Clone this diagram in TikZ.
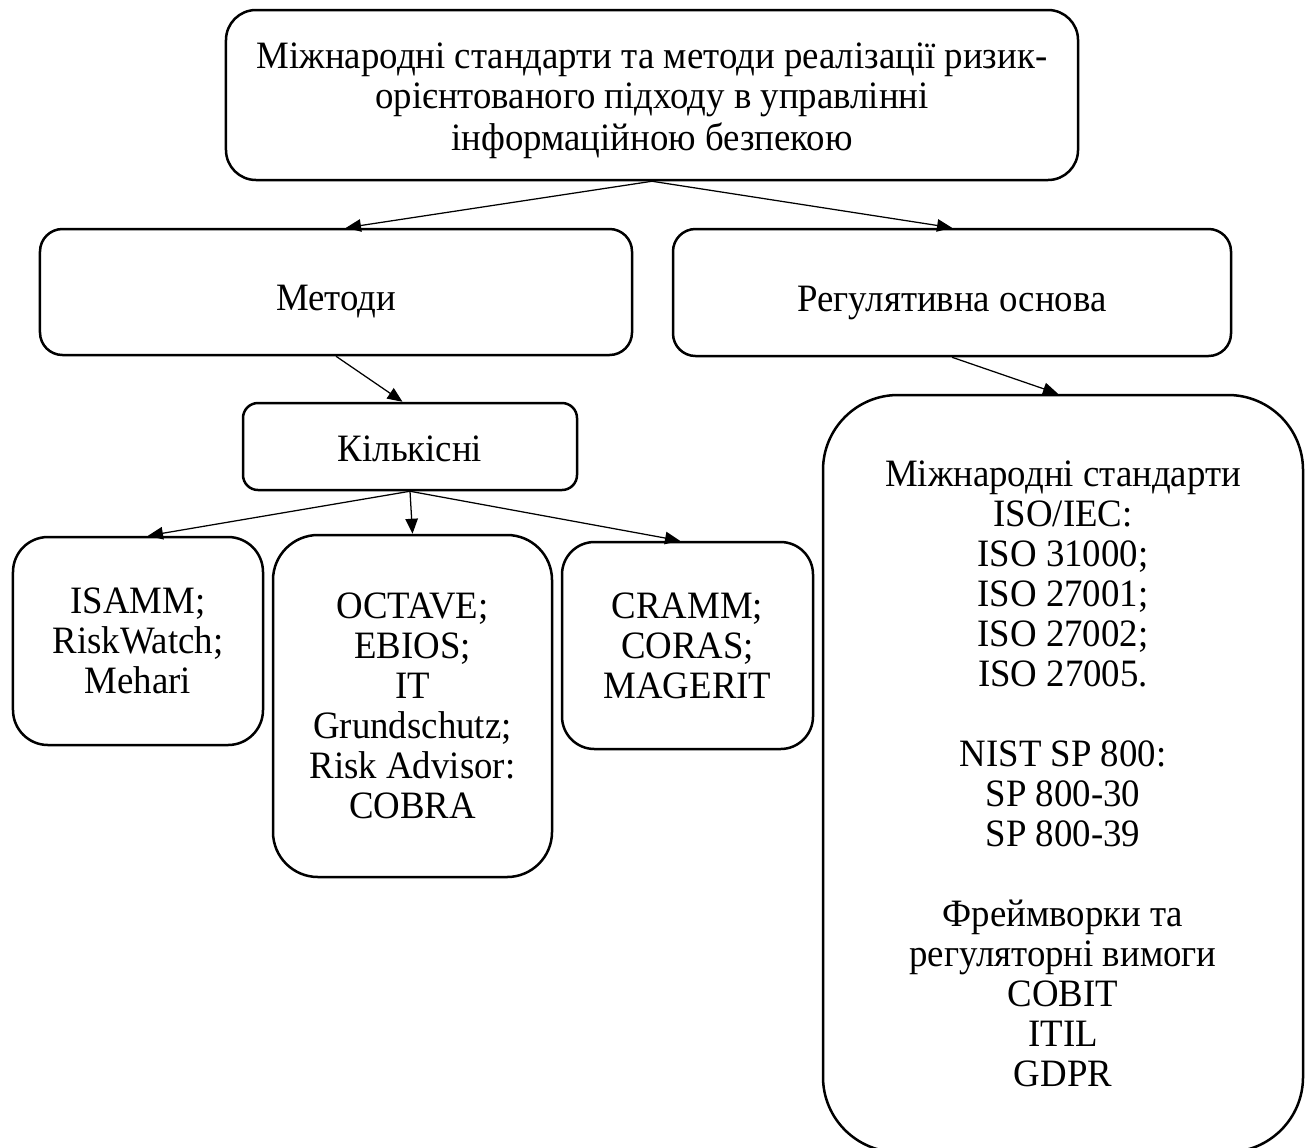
\documentclass[tikz,border=0pt]{standalone}
\usepackage{fontspec}
\setmainfont{Liberation Serif}[FakeStretch=0.95]
\usetikzlibrary{arrows.meta,positioning}

\begin{document}
\begin{tikzpicture}[
    x=0.4pt, y=-0.4pt,
    blk/.style={draw=black, line width=1pt, align=center, inner sep=0pt, font=\fontsize{15.5pt}{16pt}\selectfont},
    arr/.style={-{Triangle[length=6pt,width=5pt]}, line width=0.5pt, draw=black}
  ]
  \useasboundingbox (0,0) rectangle (1310,1147);
  \node[blk, rounded corners=12pt, minimum width=340.8pt, minimum height=68pt] (title) at (652,95)
    {\raisebox{-2.5pt}[\height][\depth]{\shortstack{Міжнародні стандарти та методи реалізації ризик-\\[-0.6pt]орієнтованого підходу в управлінні\\[-0.6pt]інформаційною безпекою}}};
  \node[blk, rounded corners=9pt, minimum width=236.8pt, minimum height=50.4pt] (methods) at (336,292)
    {\raisebox{-4pt}[\height][\depth]{Методи}};
  \node[blk, rounded corners=9pt, minimum width=223.2pt, minimum height=50.8pt] (reg) at (952,292.5)
    {\raisebox{-4pt}[\height][\depth]{Регулятивна основа}};
  \node[blk, rounded corners=6pt, minimum width=133.6pt, minimum height=34.8pt] (quant) at (410,446.5)
    {\raisebox{-1pt}[\height][\depth]{Кількісні}};
  \node[blk, rounded corners=14pt, minimum width=100pt, minimum height=83.2pt] (isamm) at (138,641)
    {ISAMM;\\RiskWatch;\\Mehari};
  \node[blk, rounded corners=18pt, minimum width=111.6pt, minimum height=136.8pt] (octave) at (412.5,706)
    {OCTAVE;\\EBIOS;\\IT\\Grundschutz;\\Risk Advisor:\\COBRA};
  \node[blk, rounded corners=13pt, minimum width=100.4pt, minimum height=82.8pt] (cramm) at (687.5,645.5)
    {CRAMM;\\CORAS;\\MAGERIT};
  \node[blk, rounded corners=30pt, minimum width=192pt, minimum height=302.8pt] (stds) at (1063,773.5)
    {Міжнародні стандарти\\ISO/IEC:\\ISO 31000;\\ISO 27001;\\ISO 27002;\\ISO 27005.\\[16pt]
     NIST SP 800:\\SP 800-30\\SP 800-39\\[16pt]
     Фреймворки та\\регуляторні вимоги\\COBIT\\ITIL\\GDPR};
  % connectors
  \draw[arr] (title.south) -- ([xshift=4pt]methods.north);
  \draw[arr] (title.south) -- (reg.north);
  \draw[arr] (methods.south) -- ([xshift=-3pt]quant.north);
  \draw[arr] (reg.south) -- ([xshift=-2pt]stds.north);
  \draw[arr] (quant.south) -- ([xshift=4pt]isamm.north);
  \draw[arr] (quant.south) -- (octave.north);
  \draw[arr] (quant.south) -- ([xshift=-3pt]cramm.north);
\end{tikzpicture}
\end{document}
